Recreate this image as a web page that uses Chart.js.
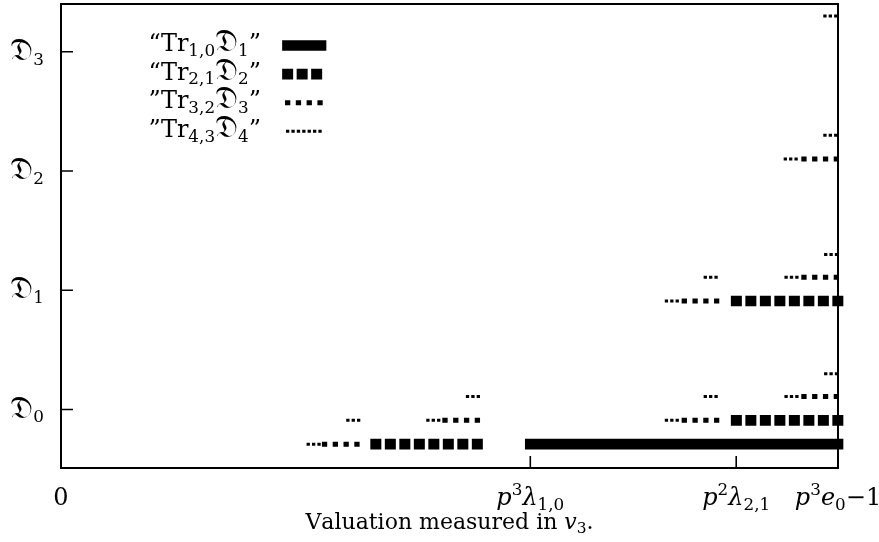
<!DOCTYPE html>
<html>
<head>
<meta charset="utf-8">
<script src="https://cdn.jsdelivr.net/npm/chart.js@4.4.1/dist/chart.umd.min.js"></script>
<style>
    html, body { margin: 0; padding: 0; background: #fff; }
    #caja { width: 879px; height: 542px; }
</style>
</head>
<body>
<div id="caja"><canvas id="valuaciones"></canvas></div>
<script>
// segmentos: [x inicio, x fin, nivel]
const tr10_segments = [[60.4, 100, -0.29]];
const tr21_segments = [[40.5, 53.8, -0.29], [86.9, 100, -0.09], [86.9, 100, 0.91]];
const tr32_segments = [
    [33.9, 38.3, -0.29], [49.4, 53.7, -0.09], [80.2, 84.4, -0.09], [95.6, 99.8, 0.11],
    [80.2, 84.4, 0.91], [95.6, 99.8, 1.11], [95.6, 99.8, 2.10]
];
const tr43_segments = [
    [31.8, 33.3, -0.29], [36.9, 38.4, -0.09], [47.2, 48.7, -0.09], [77.9, 79.5, -0.09],
    [52.3, 53.8, 0.11], [82.9, 84.4, 0.11], [93.3, 94.8, 0.11], [98.4, 99.9, 0.30],
    [77.9, 79.5, 0.91], [82.9, 84.4, 1.11], [93.3, 94.8, 1.11], [98.4, 99.9, 1.30],
    [93.2, 94.7, 2.10], [98.3, 99.8, 2.30], [98.3, 99.8, 3.30]
];
// *...* = cursiva, ^ y _ = super/subindice
const series_names = ['“Tr_{1,0}𝔇_1”', '“Tr_{2,1}𝔇_2”', '”Tr_{3,2}𝔇_3”', '”Tr_{4,3}𝔇_4”'];

const x_tick_values = [0, 60.4, 86.9, 100];
const x_tick_labels = ['0', '*p*^3*λ*_{1,0}', '*p*^2*λ*_{2,1}', '*p*^3*e*_0−1'];
const y_tick_values = [0, 1, 2, 3];
const y_tick_labels = ['𝔇_0', '𝔇_1', '𝔇_2', '𝔇_3'];
const x_title = 'Valuation measured in *v*_3.';

const SERIF = "'DejaVu Serif', 'Liberation Serif', serif";

const estilos = [
    {width: 10.7, dash: []},
    {width: 10.7, dash: [0.3, 14.2]},
    {width: 5, dash: [0.3, 10.5]},
    {width: 3, dash: [0.3, 5.1]}
];

function partes(txt) {
    const chars = Array.from(txt);
    let out = [];
    let italic = false;
    for (let i = 0; i < chars.length; i++) {
        let c = chars[i];
        if (c === '*') { italic = !italic; continue; }
        if (c === '^' || c === '_') {
            const lvl = c === '^' ? 1 : -1;
            let t = '';
            if (chars[i + 1] === '{') {
                i += 2;
                while (chars[i] !== '}') { t += chars[i]; i++; }
            } else {
                i++;
                t = chars[i];
            }
            out.push({t: t, lvl: lvl, italic: false});
            continue;
        }
        out.push({t: c, lvl: 0, italic: italic});
    }
    return out;
}

function fuente(p, size) {
    let s = p.lvl === 0 ? size : size * 0.7;
    if (p.t === '𝔇') s = size * 1.3;
    return (p.italic ? 'italic ' : '') + s.toFixed(1) + 'px ' + SERIF;
}

function texto(ctx, txt, x, y, size, align) {
    const ps = partes(txt);
    let w = 0;
    ps.forEach(p => { ctx.font = fuente(p, size); p.w = ctx.measureText(p.t).width; w += p.w; });
    let cx = x;
    if (align === 'center') cx = x - w / 2;
    if (align === 'right') cx = x - w;
    ctx.textAlign = 'left';
    ctx.textBaseline = 'alphabetic';
    ps.forEach(p => {
        ctx.font = fuente(p, size);
        let dy = 0;
        if (p.lvl === 1) dy = -0.42 * size;
        if (p.lvl === -1) dy = 0.2 * size;
        ctx.fillText(p.t, cx, y + dy);
        cx += p.w;
    });
}

const todos = [tr10_segments, tr21_segments, tr32_segments, tr43_segments];
let datasets = [];
todos.forEach((segs, i) => {
    segs.forEach(s => {
        datasets.push({
            label: series_names[i],
            data: [{x: s[0], y: s[2]}, {x: s[1], y: s[2]}],
            borderColor: '#000',
            borderWidth: estilos[i].width,
            borderDash: estilos[i].dash,
            borderCapStyle: 'square',
            pointRadius: 0,
            pointHoverRadius: 0,
            fill: false,
            clip: false
        });
    });
});

const marco = {
    id: 'marco',
    beforeDatasetsDraw(chart) {
        const {ctx, chartArea: a, scales} = chart;
        ctx.save();
        ctx.strokeStyle = '#000';
        ctx.lineWidth = 2;
        ctx.strokeRect(a.left, a.top, a.right - a.left, a.bottom - a.top);
        ctx.lineWidth = 1.6;
        ctx.beginPath();
        y_tick_values.forEach(v => {
            const py = scales.y.getPixelForValue(v);
            ctx.moveTo(a.left, py);
            ctx.lineTo(a.left + 12, py);
        });
        x_tick_values.forEach(v => {
            const px = scales.x.getPixelForValue(v);
            ctx.moveTo(px, a.bottom);
            ctx.lineTo(px, a.bottom - 12);
        });
        ctx.stroke();

        // etiquetas de los ejes
        ctx.fillStyle = '#000';
        x_tick_values.forEach((v, i) => {
            texto(ctx, x_tick_labels[i], scales.x.getPixelForValue(v), 505, 24, 'center');
        });
        y_tick_values.forEach((v, i) => {
            texto(ctx, y_tick_labels[i], 44, scales.y.getPixelForValue(v) + 8, 24, 'right');
        });
        texto(ctx, x_title, (a.left + a.right) / 2, 529, 22, 'center');
        ctx.restore();
    },
    afterDatasetsDraw(chart) {
        const {ctx} = chart;
        ctx.save();
        ctx.fillStyle = '#000';
        ctx.strokeStyle = '#000';
        series_names.forEach((name, i) => {
            const base = 51 + i * 28.6;
            texto(ctx, name, 261, base, 24, 'right');
            ctx.lineWidth = estilos[i].width;
            ctx.setLineDash(estilos[i].dash);
            ctx.lineCap = 'square';
            ctx.beginPath();
            ctx.moveTo(287.5, base - 5.5);
            ctx.lineTo(321, base - 5.5);
            ctx.stroke();
        });
        ctx.restore();
    }
};

new Chart(document.getElementById('valuaciones'), {
    type: 'line',
    data: {datasets: datasets},
    options: {
        responsive: true,
        maintainAspectRatio: false,
        animation: false,
        events: [],
        layout: {padding: {top: 4, right: 41, left: 0, bottom: 0}},
        plugins: {legend: {display: false}, tooltip: {enabled: false}},
        scales: {
            x: {
                type: 'linear',
                min: 0,
                max: 100,
                grid: {display: false},
                border: {display: false},
                ticks: {display: false},
                afterFit: s => {
                    s.height = 74;
                    s.paddingLeft = 0; s.paddingRight = 0;
                }
            },
            y: {
                type: 'linear',
                min: -0.49,
                max: 3.4,
                grid: {display: false},
                border: {display: false},
                ticks: {display: false},
                afterFit: s => {
                    s.width = 61;
                    s.paddingTop = 0; s.paddingBottom = 0;
                }
            }
        }
    },
    plugins: [marco]
});
</script>
</body>
</html>
